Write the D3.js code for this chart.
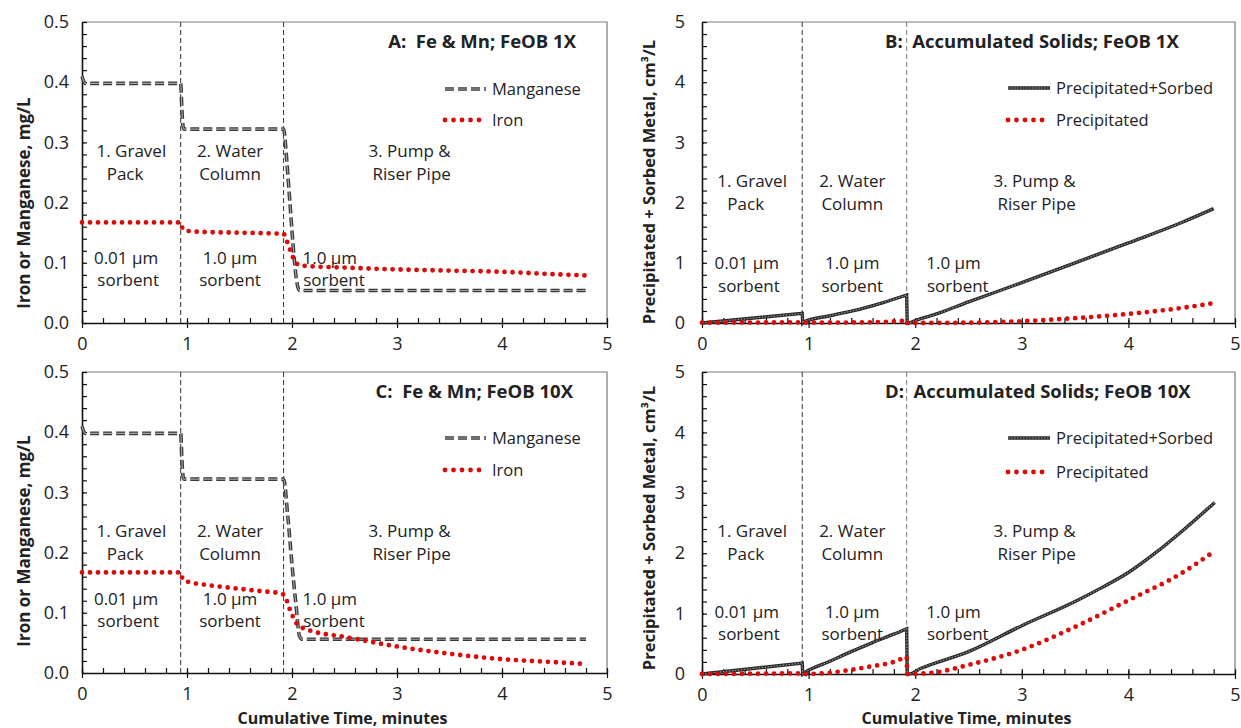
<!DOCTYPE html>
<html>
<head>
<meta charset="UTF-8" />
<title>FeOB panels</title>
<script src="https://cdnjs.cloudflare.com/ajax/libs/d3/7.8.5/d3.min.js"></script>
<style>
  body { margin: 0; background: #fff; }
  svg text { font-family: "Open Sans", sans-serif; fill: #222; }
  .bold { font-weight: bold; }
</style>
</head>
<body>
<script>
// ---- data ----
var xTicks = [0, 1, 2, 3, 4, 5];
var yTicksConc = [0, 0.1, 0.2, 0.3, 0.4, 0.5];
var yTicksSolids = [0, 1, 2, 3, 4, 5];
var zoneBounds = [0.94, 1.92];

// Manganese, panels A and C
var mnTimeA = [0, 0.03, 0.94, 0.95, 0.96, 0.97, 1.92, 1.95, 1.98, 2.01, 2.04, 2.07, 3, 4, 4.8];
var mnA     = [0.41, 0.398, 0.398, 0.36, 0.33, 0.322, 0.322, 0.27, 0.2, 0.13, 0.075, 0.054, 0.054, 0.054, 0.054];
var mnTimeC = [0, 0.03, 0.94, 0.95, 0.96, 0.97, 1.92, 1.96, 2.0, 2.04, 2.07, 2.1, 3, 4, 4.8];
var mnC     = [0.41, 0.398, 0.398, 0.36, 0.33, 0.322, 0.322, 0.26, 0.18, 0.11, 0.062, 0.056, 0.056, 0.056, 0.056];

// Iron, panels A and C
var feTimeA = [0, 0.94, 0.96, 1.0, 1.2, 1.5, 1.92, 1.94, 1.97, 2.0, 2.03, 2.07, 2.12, 2.5, 3.0, 3.5, 4.0, 4.5, 4.8];
var feA     = [0.167, 0.167, 0.156, 0.153, 0.151, 0.15, 0.148, 0.141, 0.127, 0.113, 0.102, 0.096, 0.095, 0.092, 0.089, 0.087, 0.085, 0.081, 0.079];
var feTimeC = [0, 0.94, 0.96, 1.0, 1.2, 1.44, 1.7, 1.9, 1.94, 1.97, 2.0, 2.04, 2.1, 2.2, 2.5, 3.0, 3.5, 4.0, 4.5, 4.78];
var feC     = [0.167, 0.167, 0.155, 0.152, 0.146, 0.141, 0.136, 0.132, 0.125, 0.11, 0.097, 0.083, 0.075, 0.069, 0.06, 0.044, 0.032, 0.023, 0.018, 0.015];

// Precipitated + sorbed, panels B and D
var psTimeB = [0, 0.94, 0.945, 0.96, 1.2, 1.5, 1.7, 1.92, 1.925, 1.94, 2.0, 2.2, 2.5, 3.0, 3.5, 4.0, 4.5, 4.8];
var psB     = [0, 0.16, 0, 0.02, 0.12, 0.24, 0.34, 0.465, 0, 0, 0.04, 0.15, 0.35, 0.67, 1.0, 1.33, 1.67, 1.9];
var psTimeD = [0, 0.94, 0.945, 0.97, 1.2, 1.4, 1.6, 1.8, 1.92, 1.925, 1.94, 2.05, 2.5, 3.0, 3.5, 3.75, 4.0, 4.25, 4.5, 4.81];
var psD     = [0, 0.18, 0, 0.03, 0.21, 0.37, 0.52, 0.66, 0.75, 0, 0, 0.09, 0.37, 0.8, 1.2, 1.43, 1.68, 2.0, 2.36, 2.84];

// Precipitated only, panels B and D
var prTimeB = [0, 0.94, 0.945, 1.5, 1.85, 1.92, 1.925, 1.94, 2.5, 3.0, 3.5, 4.0, 4.5, 4.8];
var prB     = [0.005, 0.01, 0.005, 0.01, 0.03, 0.05, 0, 0, 0.005, 0.03, 0.08, 0.15, 0.25, 0.33];
var prTimeD = [0, 0.94, 0.945, 0.97, 1.2, 1.4, 1.6, 1.8, 1.9, 1.92, 1.925, 1.94, 2.2, 2.5, 3.0, 3.5, 4.0, 4.5, 4.78];
var prD     = [0, 0.01, 0, 0, 0.02, 0.07, 0.13, 0.2, 0.27, 0.28, 0, 0, 0.03, 0.15, 0.4, 0.78, 1.22, 1.67, 2.0];

var zoneText = [["1. Gravel", "Pack"], ["2. Water", "Column"], ["3. Pump &", "Riser Pipe"]];
var zoneTextX = [[0.47, 0.41], [1.41, 1.41], [3.12, 3.14]];
var sorbText = [["0.01 \u00b5m", "sorbent"], ["1.0 \u00b5m", "sorbent"], ["1.0 \u00b5m", "sorbent"]];
var sorbTextX = [[0.42, 0.44], [1.41, 1.41], [2.36, 2.4]];

var W = 1241, H = 728;
var svg = d3.select("body").append("svg").attr("width", W).attr("height", H);
svg.append("rect").attr("width", W).attr("height", H).attr("fill", "#fff");

var red = "#dd0a0a";

function styleStroke(path, kind, dots) {
  if (kind == "mn") {
    path.attr("stroke", "#3a3a3a").attr("stroke-width", 3.6).attr("stroke-dasharray", "9,4");
  } else if (kind == "mnHi") {
    path.attr("stroke", "#a5a5a5").attr("stroke-width", 1.1).attr("stroke-dasharray", "9,4");
  } else if (kind == "ps") {
    path.attr("stroke", "#2a2a2a").attr("stroke-width", 3.4);
  } else if (kind == "psHi") {
    path.attr("stroke", "#9a9a9a").attr("stroke-width", 1.1).attr("stroke-dasharray", "1.5,1.5");
  } else {
    path.attr("stroke", red).attr("stroke-width", 4.8)
      .attr("stroke-linecap", "round").attr("stroke-dasharray", "0," + dots);
  }
}

function layers(kind) {
  if (kind == "mn") return ["mn", "mnHi"];
  if (kind == "ps") return ["ps", "psHi"];
  return ["dot"];
}

// smooth each run, straight drops where the time step is tiny (zone resets)
function seriesPath(line, pts) {
  var runs = [[pts[0]]];
  for (var i = 1; i < pts.length; i++) {
    if (pts[i][0] - pts[i - 1][0] < 0.008) runs.push([]);
    runs[runs.length - 1].push(pts[i]);
  }
  return runs.map(function(r, i) {
    var d = r.length > 1 ? line(r) : line([r[0], r[0]]);
    return i == 0 ? d : "L" + d.slice(1);
  }).join("");
}

function drawPanel(p) {
  var x = d3.scaleLinear().domain([0, 5]).range([p.left, p.right]);
  var y = d3.scaleLinear().domain([0, p.ymax]).range([p.bottom, p.top]);
  var g = svg.append("g");

  // plot frame (top & right)
  g.append("path").attr("d", "M" + p.left + "," + p.top + "H" + p.right + "V" + p.bottom)
    .attr("fill", "none").attr("stroke", "#7a7a7a").attr("stroke-width", 1.2);

  // zone separators
  g.selectAll(".zone").data(zoneBounds).enter().append("line")
    .attr("x1", function(d) { return x(d); }).attr("x2", function(d) { return x(d); })
    .attr("y1", p.top).attr("y2", p.bottom)
    .attr("stroke", function(d, i) { return i == 1 && p.grayZone ? "#777" : "#333"; })
    .attr("stroke-width", 1).attr("stroke-dasharray", "5,3");

  // minor ticks (inside)
  var xMinor = d3.range(0, 5.001, 0.2);
  var yMinor = d3.range(0, p.ymax * 1.0001, p.ymax / 25);
  g.append("g").attr("transform", "translate(0," + p.bottom + ")")
    .call(d3.axisTop(x).tickValues(xMinor).tickSize(5).tickSizeOuter(0).tickFormat(""))
    .call(function(a) { a.select(".domain").remove(); a.selectAll("line").attr("stroke", "#111").attr("stroke-width", 1.2); });
  g.append("g").attr("transform", "translate(" + p.left + ",0)")
    .call(d3.axisRight(y).tickValues(yMinor).tickSize(5).tickSizeOuter(0).tickFormat(""))
    .call(function(a) { a.select(".domain").remove(); a.selectAll("line").attr("stroke", "#111").attr("stroke-width", 1.2); });

  // major axes
  var ax = g.append("g").attr("transform", "translate(0," + p.bottom + ")")
    .call(d3.axisBottom(x).tickValues(xTicks).tickSize(5).tickSizeOuter(0).tickPadding(9).tickFormat(d3.format("d")));
  ax.selectAll(".tick line").attr("y1", -3);
  var ay = g.append("g").attr("transform", "translate(" + p.left + ",0)")
    .call(d3.axisLeft(y).tickValues(p.yTicks).tickSize(5).tickSizeOuter(0).tickPadding(p.yPad).tickFormat(p.fmt));
  ay.selectAll(".tick line").attr("x2", 2);
  [ax, ay].forEach(function(a) {
    a.select(".domain").attr("stroke", "#111").attr("stroke-width", 1.6);
    a.selectAll(".tick line").attr("stroke", "#111").attr("stroke-width", 1.2);
    a.selectAll(".tick text").attr("font-size", 18).attr("fill", "#222")
      .attr("font-family", "'Open Sans', sans-serif");
  });

  // series
  var line = d3.line().curve(d3.curveMonotoneX)
    .x(function(d) { return x(d[0]); }).y(function(d) { return y(d[1]); });
  p.series.forEach(function(s) {
    var d = seriesPath(line, d3.zip(s[0], s[1]));
    layers(s[2]).forEach(function(k) {
      styleStroke(g.append("path").attr("d", d).attr("fill", "none"), k, 8);
    });
  });

  // annotations
  zoneText.forEach(function(lines, i) {
    lines.forEach(function(t, j) {
      g.append("text").attr("x", x(zoneTextX[i][j])).attr("y", y(p.zoneY) + j * 22.5)
        .attr("text-anchor", "middle").attr("dy", "0.35em").attr("font-size", 17).text(t);
    });
  });
  sorbText.forEach(function(lines, i) {
    lines.forEach(function(t, j) {
      g.append("text").attr("x", x(sorbTextX[i][j])).attr("y", y(p.sorbY) + j * 22.5)
        .attr("text-anchor", "middle").attr("dy", "0.35em").attr("font-size", 17).text(t);
    });
  });

  // title
  g.append("text").attr("class", "bold").attr("x", p.titleX).attr("y", p.top + 26)
    .attr("xml:space", "preserve").style("white-space", "pre")
    .attr("text-anchor", p.titleAnchor).attr("font-size", 18.5).text(p.title);

  // legend
  p.legend.forEach(function(l, i) {
    var ly = p.top + p.legY[i];
    layers(l[1]).forEach(function(k) {
      styleStroke(g.append("path").attr("d", "M" + p.legX[0] + "," + ly + "H" + p.legX[1]), k, 8.5);
    });
    g.append("text").attr("x", p.legX[1] + 6).attr("y", ly).attr("dy", "0.35em")
      .attr("font-size", 16.5).text(l[0]);
  });

  // y axis title
  g.append("text").attr("class", "bold").attr("font-size", p.yTitleSize)
    .attr("transform", "translate(" + p.yTitleX + "," + p.yTitleY + ") rotate(-90)")
    .attr("text-anchor", "middle").attr("dy", "0.35em").text(p.yTitle);

  if (p.xTitle) {
    g.append("text").attr("class", "bold").attr("font-size", 16)
      .attr("x", (p.left + p.right) / 2 - 2).attr("y", 718).attr("dy", "0.35em")
      .attr("text-anchor", "middle").text("Cumulative Time, minutes");
  }
}

var concTitle = "Iron or Manganese, mg/L";
var solidsTitle = "Precipitated + Sorbed Metal, cm\u00b3/L";

drawPanel({ left: 82, right: 607, top: 22, bottom: 323, ymax: 0.5, yTicks: yTicksConc, fmt: d3.format(".1f"), yPad: 8,
  series: [[mnTimeA, mnA, "mn"], [feTimeA, feA, "fe"]], zoneY: 0.285, sorbY: 0.108,
  title: "A:  Fe & Mn; FeOB 1X", titleX: 576, titleAnchor: "end",
  legend: [["Manganese", "mn"], ["Iron", "fe"]], legX: [445, 486], legY: [67, 98],
  yTitle: concTitle, yTitleX: 24, yTitleY: 203, yTitleSize: 17 });

drawPanel({ left: 702, right: 1235, top: 22, bottom: 323, ymax: 5, yTicks: yTicksSolids, fmt: d3.format("d"), yPad: 12,
  series: [[psTimeB, psB, "ps"], [prTimeB, prB, "pr"]], zoneY: 2.35, sorbY: 0.99, grayZone: true,
  title: "B:  Accumulated Solids; FeOB 1X", titleX: 885, titleAnchor: "start",
  legend: [["Precipitated+Sorbed", "ps"], ["Precipitated", "pr"]], legX: [1008, 1050], legY: [66, 98],
  yTitle: solidsTitle, yTitleX: 649, yTitleY: 182, yTitleSize: 16.5 });

drawPanel({ left: 82, right: 607, top: 372, bottom: 673, ymax: 0.5, yTicks: yTicksConc, fmt: d3.format(".1f"), yPad: 8,
  series: [[mnTimeC, mnC, "mn"], [feTimeC, feC, "fe"]], zoneY: 0.235, sorbY: 0.123,
  title: "C:  Fe & Mn; FeOB 10X", titleX: 573, titleAnchor: "end",
  legend: [["Manganese", "mn"], ["Iron", "fe"]], legX: [445, 486], legY: [66, 98],
  yTitle: concTitle, yTitleX: 24, yTitleY: 541, yTitleSize: 17, xTitle: true });

drawPanel({ left: 702, right: 1235, top: 372, bottom: 674, ymax: 5, yTicks: yTicksSolids, fmt: d3.format("d"), yPad: 12,
  series: [[psTimeD, psD, "ps"], [prTimeD, prD, "pr"]], zoneY: 2.36, sorbY: 1.03, grayZone: true,
  title: "D:  Accumulated Solids; FeOB 10X", titleX: 885, titleAnchor: "start",
  legend: [["Precipitated+Sorbed", "ps"], ["Precipitated", "pr"]], legX: [1008, 1050], legY: [66, 100],
  yTitle: solidsTitle, yTitleX: 649, yTitleY: 528, yTitleSize: 16.5, xTitle: true });
</script>
</body>
</html>
